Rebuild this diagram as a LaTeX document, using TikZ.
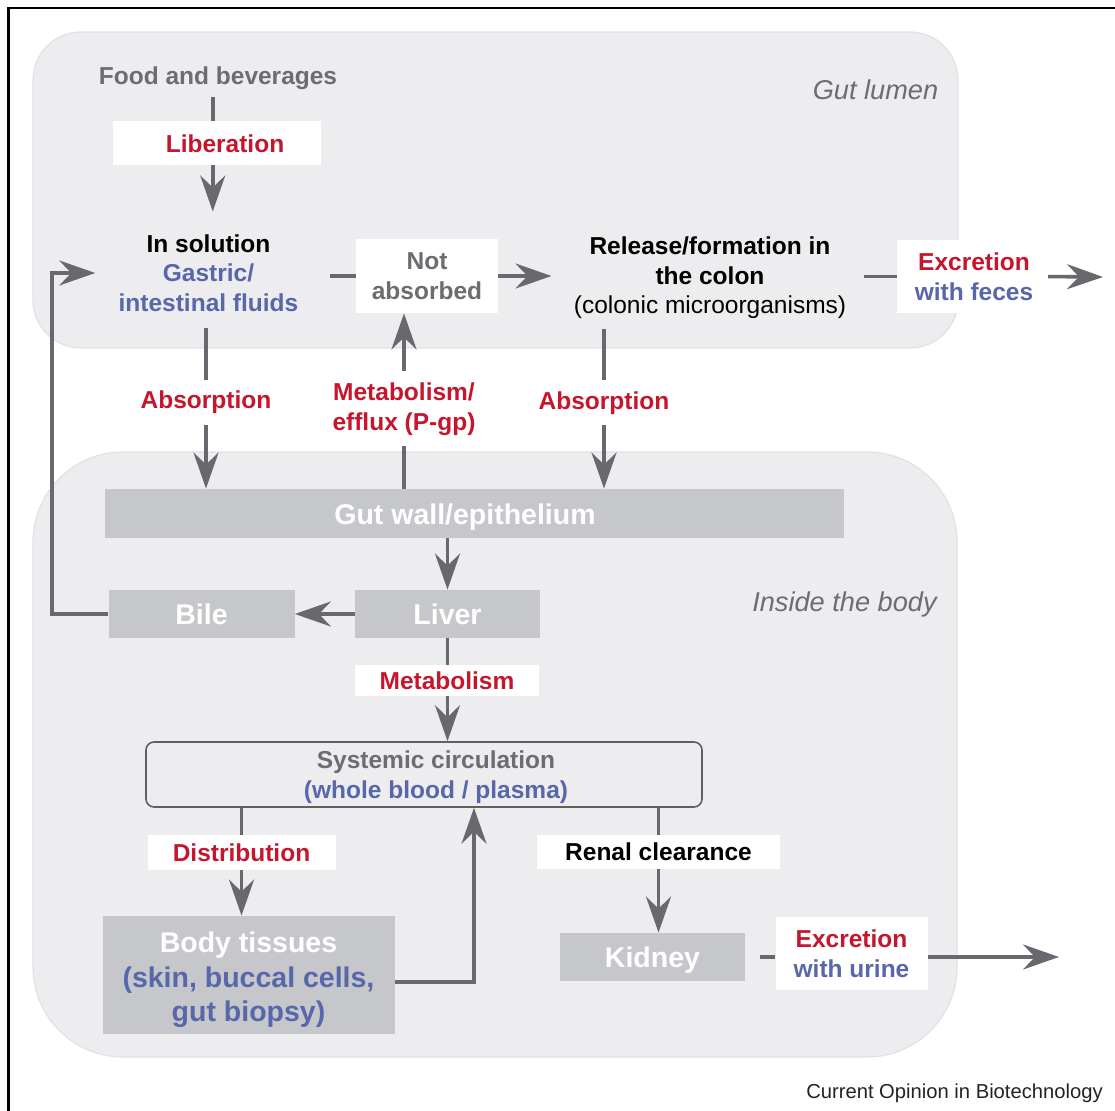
\documentclass[tikz,border=0pt]{standalone}
\usepackage{fontspec}
\setmainfont{Liberation Sans}
\usetikzlibrary{arrows.meta}
\pgfdeclarelayer{bg}
\pgfdeclarelayer{lines}
\pgfsetlayers{bg,lines,main}
\definecolor{cred}{RGB}{198,22,45}
\definecolor{cblue}{RGB}{88,103,170}
\definecolor{tgray}{RGB}{108,109,113}
\definecolor{agray}{RGB}{104,105,110}
\definecolor{boxgray}{RGB}{198,199,202}
\definecolor{regfill}{RGB}{237,237,240}
\definecolor{regline}{RGB}{226,226,230}
\definecolor{sysline}{RGB}{95,96,100}
\definecolor{credit}{RGB}{35,35,35}
\begin{document}
\begin{tikzpicture}[x=0.5pt,y=-0.5pt,
  lab/.style={font=\fontsize{12.25}{14.75}\selectfont\bfseries, align=center, inner sep=0pt},
  wbox/.style={fill=white, inner sep=0pt},
  gbox/.style={fill=boxgray, inner sep=0pt, text=white, font=\fontsize{14.25}{17.25}\selectfont\bfseries, align=center},
  gtext/.style={inner sep=0pt, text=white, font=\fontsize{14.25}{17.25}\selectfont\bfseries, align=center},
  arr/.style={draw=agray, line width=1.8pt, -{Stealth[length=18pt,width=12.5pt,inset=6pt]}},
  ln/.style={draw=agray, line width=1.8pt},
  region/.style={fill=regfill, draw=regline, line width=0.6pt},
  reglabel/.style={font=\fontsize{13.6}{16}\selectfont\itshape, text=tgray, inner sep=0pt}
]
\useasboundingbox (0,0) rectangle (1115,1111);

% ---------- nodes ----------
\node[lab, text=tgray] (food) at (218,78.6) {Food and beverages};
\node[wbox, minimum width=104.25pt, minimum height=22pt] (lib) at (216.75,143) {};
\node[lab, text=cred] (libt) at (225,144) {Liberation};
\node[lab] (sol) at (208.5,273) {In solution\\\textcolor{cblue}{Gastric/}\\\textcolor{cblue}{intestinal fluids}};
\node[wbox, lab, text=tgray, minimum width=70.75pt, minimum height=37pt] (notabs) at (427,276) {Not\\absorbed};
\node[lab] (colon) at (710,278) {Release/formation in\\the colon\\{\mdseries (colonic microorganisms)}};
\node[wbox, minimum width=70.75pt, minimum height=36.5pt] (exf) at (968,276.5) {};
\node[lab] (exft) at (974,277) {\textcolor{cred}{Excretion}\\\textcolor{cblue}{with feces}};
\coordinate (fecesout) at (1103,277);

\node[reglabel] (gutlumen) at (875.5,90) {Gut lumen};
\node[reglabel] (insidebody) at (844.5,604) {Inside the body};

\node[wbox, lab, text=cred, inner xsep=2pt, minimum height=22.5pt] (abl) at (206,402.5) {Absorption};
\node[wbox, lab, text=cred, inner xsep=2pt, minimum height=37.5pt] (met) at (404,409) {Metabolism/\\efflux (P-gp)};
\node[wbox, lab, text=cred, inner xsep=2pt, minimum height=22.5pt] (abr) at (604,403) {Absorption};

\node[gbox, minimum width=369.5pt, minimum height=24.5pt] (gutwall) at (474.5,513.5) {};
\node[gtext] (gwt) at (465,517) {Gut wall/epithelium};

\node[gbox, minimum width=92.5pt, minimum height=24pt] (liver) at (447.5,614) {Liver};
\node[gbox, minimum width=93pt, minimum height=24pt] (bile) at (201.5,614) {Bile};
\node[wbox, lab, text=cred, minimum width=92pt, minimum height=15.5pt] (metab) at (447,680.5) {Metabolism};

\node[draw=sysline, line width=0.8pt, rounded corners=4pt, inner sep=0pt, minimum width=278pt, minimum height=32.5pt] (sys) at (424,774.5) {};
\node[lab] (syst) at (436,777) {\textcolor{tgray}{Systemic circulation}\\\textcolor{cblue}{(whole blood / plasma)}};

\node[wbox, lab, text=cred, minimum width=94pt, minimum height=17.5pt] (dist) at (241.5,852.5) {Distribution};
\node[gbox, minimum width=146pt, minimum height=59pt] (tissues) at (248.5,975) {};
\node[gtext] (tist) at (248.5,980) {Body tissues\\\textcolor{cblue}{(skin, buccal cells,}\\\textcolor{cblue}{gut biopsy)}};

\node[wbox, lab, text=black, minimum width=121.5pt, minimum height=17pt] (renal) at (658.5,852) {Renal clearance};
\node[gbox, minimum width=92.5pt, minimum height=24pt, text height=10.2pt, text depth=0pt] (kidney) at (652.5,957) {Kidney};
\node[wbox, lab, minimum width=76pt, minimum height=36.5pt] (urine) at (851.5,953.5) {\textcolor{cred}{Excretion}\\\textcolor{cblue}{with urine}};
\coordinate (urineout) at (1059,957);

\node[inner sep=0pt, font=\fontsize{10.1}{12}\selectfont, text=credit] (credit) at (954.5,1093) {Current Opinion in Biotechnology};

% ---------- connectors ----------
\begin{pgfonlayer}{lines}
\draw[arr, shorten <=3.5pt, shorten >=11.3pt] ([xshift=-2pt]lib |- food.south) -- ([xshift=-2pt]lib |- sol.north);
\draw[arr, shorten >=11.5pt] (bile.west) -- ++(-56,0) |- (sol.west);
\draw[ln, shorten <=15.5pt] (sol.east |- notabs) -- (notabs.west);
\draw[arr, shorten >=11pt] (notabs.east) -- (notabs.east -| colon.west);
\draw[ln, shorten <=8.5pt] (colon.east |- exf) -- (exf.west);
\draw[arr, shorten <=4.5pt] (exf.east) -- (fecesout);
\draw[arr, shorten <=8pt] (sol.south -| abl) -- (abl |- gutwall.north);
\draw[arr] (met |- gutwall.north) -- (met |- notabs.south);
\draw[arr, shorten <=5pt] (colon.south -| abr) -- (abr |- gutwall.north);
\draw[arr] (liver |- gutwall.south) -- (liver.north);
\draw[arr] (liver.west) -- (bile.east);
\draw[arr] (liver.south) -- (liver |- sys.north);
\draw[arr] (dist |- sys.south) -- (dist |- tissues.north);
\draw[arr] ([yshift=-3.5pt]tissues.east) -| ([xshift=25pt]sys.south);
\draw[arr] (renal |- sys.south) -- (renal |- kidney.north);
\draw[ln, shorten <=7.5pt] (kidney.east) -- (kidney.east -| urine.west);
\draw[arr] (urine.east |- kidney.east) -- (urineout);
\end{pgfonlayer}

% ---------- background ----------
\begin{pgfonlayer}{bg}
\fill[white] (0,0) rectangle (1115,1111);
\draw[region, rounded corners=24pt] (33,32) rectangle (958,348);
\draw[region, rounded corners=45pt] (33,452) rectangle (957,1057);
\draw[black, line width=1.3pt] (8.5,1111) -- (8.5,8) -- (1115,8);
\end{pgfonlayer}
\end{tikzpicture}
\end{document}
